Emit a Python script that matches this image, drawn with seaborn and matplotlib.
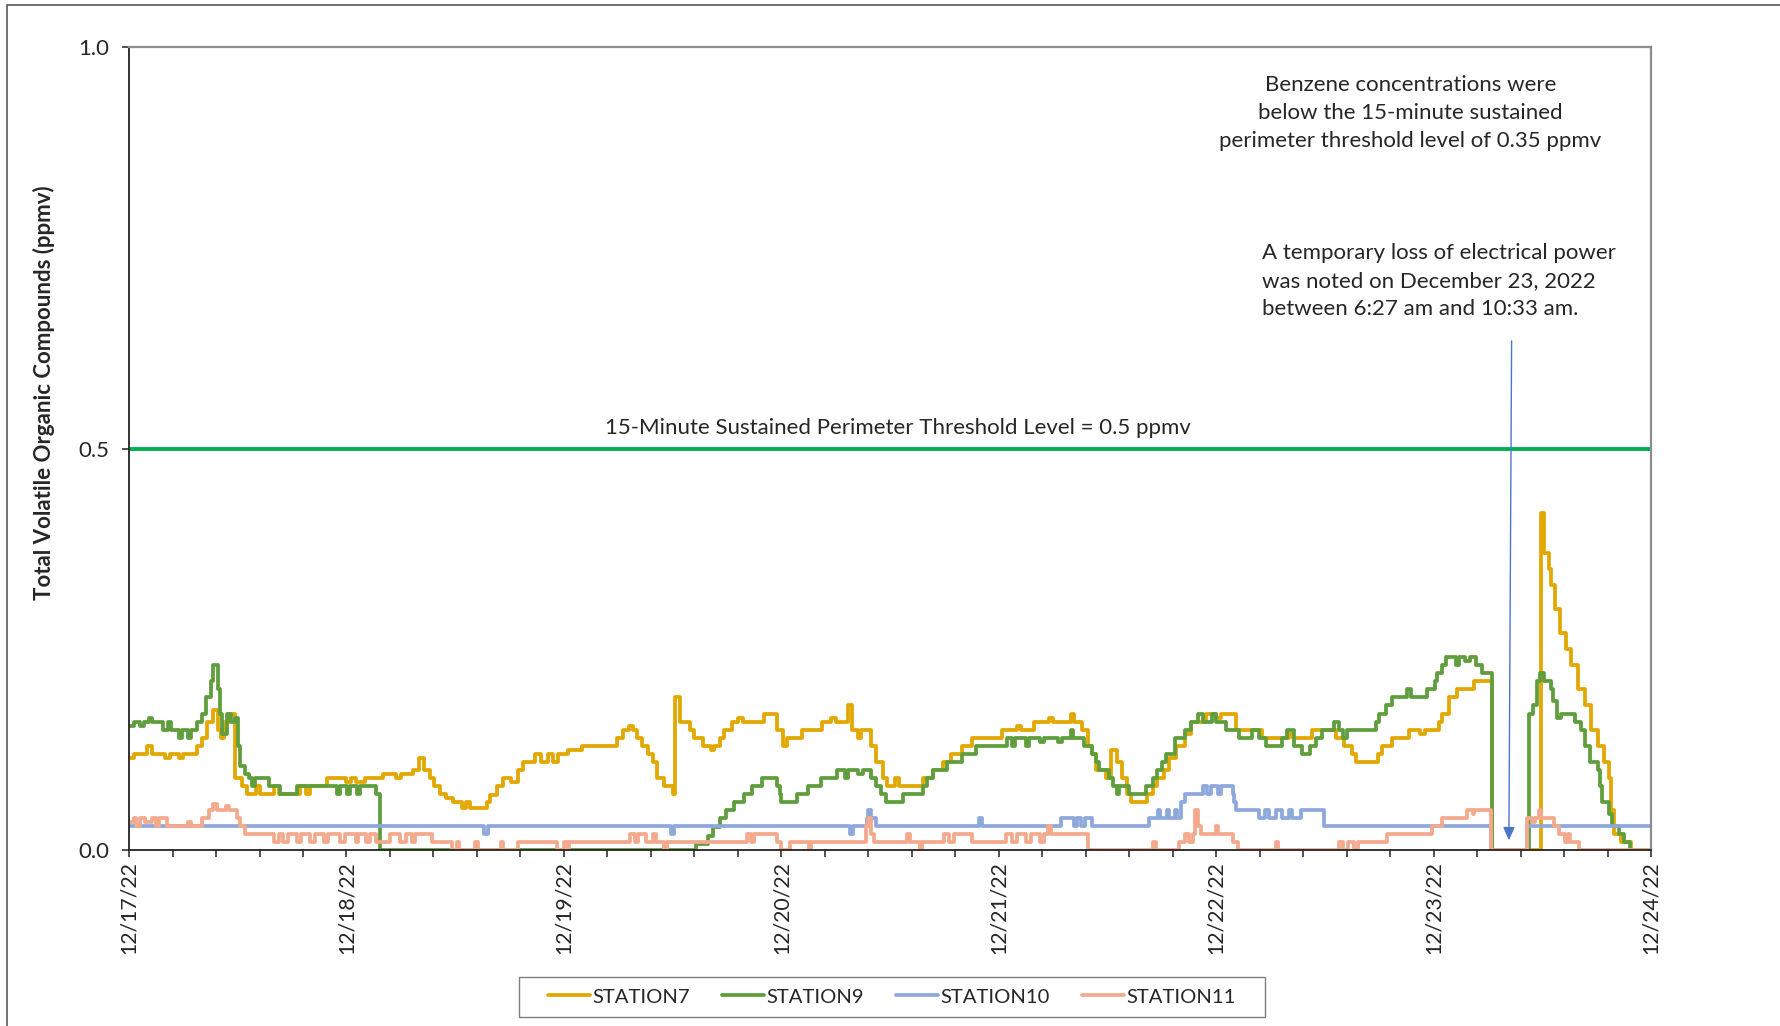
import pandas as pd
import matplotlib
matplotlib.use('Agg')
import matplotlib.pyplot as plt
import matplotlib.dates as mdates
from matplotlib.ticker import MultipleLocator, FormatStrFormatter
from matplotlib.patches import Rectangle
import seaborn as sns

START = pd.Timestamp('2022-12-17 00:00')
END = pd.Timestamp('2022-12-24 00:00')
THRESHOLD = 0.5

# hours after 12/17/22 00:00 where the reading changes, and the new reading (ppmv)
st7_hours = [0.0, 0.5, 2.0, 2.5, 4.0, 4.5, 5.5, 6.0, 7.5, 8.0,
             8.6, 9.3, 9.8, 10.1, 10.5, 11.0, 11.7, 12.5, 13.0, 14.0,
             14.5, 16.0, 16.5, 18.9, 19.5, 20.0, 21.8, 24.0, 24.5, 25.0,
             26.0, 28.0, 29.5, 30.0, 31.3, 32.0, 32.6, 33.2, 33.7, 34.3,
             35.0, 35.8, 36.7, 37.2, 37.6, 39.5, 39.8, 40.6, 41.3, 42.2,
             42.9, 43.5, 44.8, 45.5, 46.2, 46.8, 47.3, 48.5, 50.0, 53.9,
             54.5, 55.2, 55.6, 56.1, 56.6, 57.3, 57.8, 58.3, 59.1, 60.0,
             60.3, 60.8, 61.9, 62.4, 63.3, 64.2, 64.6, 65.2, 65.7, 66.6,
             67.2, 67.8, 70.1, 71.5, 72.2, 72.6, 74.3, 76.5, 77.5, 78.0,
             79.3, 79.8, 80.5, 80.8, 81.9, 82.5, 83.2, 83.7, 84.5, 85.0,
             87.6, 88.7, 89.8, 90.7, 91.9, 93.0, 96.4, 98.0, 98.5, 99.9,
             101.5, 102.0, 104.0, 104.3, 105.2, 105.8, 106.3, 106.7, 107.8, 108.4,
             109.0, 109.6, 110.2, 110.6, 112.4, 113.0, 113.5, 114.2, 114.8, 115.6,
             116.5, 117.2, 118.9, 120.0, 120.5, 122.2, 125.0, 128.0, 128.5, 130.6,
             133.2, 134.1, 135.0, 135.4, 137.8, 138.3, 139.4, 141.3, 142.5, 143.0,
             144.6, 144.9, 145.7, 146.6, 148.5, 150.4, 155.8, 156.2, 156.7, 157.0,
             157.4, 157.9, 158.6, 159.2, 159.9, 160.7, 161.4, 162.1, 162.8, 163.4,
             163.6, 163.9, 164.7, 165.8, 168.0]
st7_ppmv = [0.115, 0.12, 0.13, 0.12, 0.115, 0.12, 0.115, 0.12, 0.13, 0.14,
            0.16, 0.175, 0.15, 0.14, 0.16, 0.17, 0.09, 0.08, 0.07, 0.08,
            0.07, 0.08, 0.07, 0.08, 0.07, 0.08, 0.09, 0.085, 0.09, 0.085,
            0.09, 0.095, 0.09, 0.095, 0.10, 0.115, 0.10, 0.09, 0.08, 0.07,
            0.065, 0.06, 0.052, 0.06, 0.052, 0.06, 0.068, 0.08, 0.09, 0.085,
            0.10, 0.11, 0.12, 0.11, 0.12, 0.11, 0.12, 0.125, 0.13, 0.14,
            0.15, 0.155, 0.15, 0.14, 0.13, 0.12, 0.11, 0.09, 0.08, 0.07,
            0.19, 0.16, 0.15, 0.14, 0.13, 0.125, 0.13, 0.14, 0.15, 0.16,
            0.165, 0.16, 0.17, 0.15, 0.13, 0.14, 0.15, 0.16, 0.165, 0.16,
            0.18, 0.15, 0.14, 0.15, 0.13, 0.11, 0.09, 0.08, 0.09, 0.08,
            0.09, 0.10, 0.11, 0.12, 0.13, 0.14, 0.15, 0.155, 0.15, 0.16,
            0.165, 0.16, 0.17, 0.16, 0.15, 0.13, 0.12, 0.10, 0.09, 0.125,
            0.11, 0.09, 0.07, 0.06, 0.07, 0.08, 0.09, 0.10, 0.115, 0.13,
            0.145, 0.16, 0.17, 0.165, 0.17, 0.15, 0.14, 0.145, 0.14, 0.15,
            0.14, 0.13, 0.12, 0.11, 0.12, 0.13, 0.14, 0.15, 0.145, 0.15,
            0.16, 0.17, 0.19, 0.20, 0.21, 0.0, 0.42, 0.37, 0.35, 0.33,
            0.30, 0.27, 0.25, 0.23, 0.20, 0.18, 0.15, 0.13, 0.11, 0.09,
            0.05, 0.02, 0.01, 0.0, 0.0]

st9_hours = [0.0, 0.5, 1.2, 1.6, 2.2, 2.5, 3.8, 4.3, 4.6, 5.5,
             5.8, 6.5, 6.8, 7.5, 8.0, 8.5, 9.0, 9.3, 9.8, 10.0,
             10.3, 10.8, 11.2, 11.7, 12.0, 12.3, 12.8, 13.2, 13.6, 13.9,
             15.5, 16.7, 18.5, 23.0, 23.3, 24.1, 24.4, 25.2, 25.5, 27.3,
             27.7, 62.6, 63.9, 64.4, 65.2, 65.9, 66.8, 67.9, 68.8, 69.9,
             71.5, 71.8, 72.0, 73.7, 74.9, 76.4, 78.1, 79.0, 79.3, 80.5,
             81.0, 81.9, 82.5, 83.0, 83.6, 85.4, 87.6, 88.1, 88.7, 90.3,
             91.9, 93.5, 96.9, 97.5, 97.8, 99.0, 99.3, 100.5, 101.0, 102.5,
             103.0, 104.0, 104.2, 105.4, 106.3, 106.7, 107.1, 108.2, 108.6, 109.0,
             109.3, 110.4, 112.3, 113.0, 113.5, 114.0, 114.5, 115.4, 116.5, 117.2,
             118.0, 118.5, 119.5, 120.0, 121.1, 122.5, 123.9, 124.7, 125.5, 127.3,
             127.8, 128.6, 129.5, 130.3, 131.0, 131.7, 133.0, 133.5, 134.0, 134.4,
             137.6, 138.0, 138.7, 139.4, 141.0, 141.5, 143.3, 144.1, 144.4, 144.9,
             145.4, 146.5, 146.8, 147.5, 148.0, 148.7, 149.3, 150.4, 154.5, 155.0,
             155.4, 155.7, 156.2, 156.9, 157.2, 157.6, 158.1, 159.6, 160.3, 160.7,
             161.2, 162.1, 162.4, 162.6, 163.3, 163.7, 164.4, 165.0, 165.7, 168.0]
st9_ppmv = [0.155, 0.16, 0.155, 0.16, 0.165, 0.16, 0.15, 0.16, 0.15, 0.14,
            0.15, 0.14, 0.15, 0.16, 0.17, 0.19, 0.21, 0.23, 0.20, 0.17,
            0.145, 0.17, 0.16, 0.165, 0.13, 0.105, 0.095, 0.09, 0.08, 0.09,
            0.08, 0.07, 0.08, 0.07, 0.08, 0.07, 0.08, 0.07, 0.08, 0.07,
            0.0, 0.008, 0.018, 0.029, 0.04, 0.05, 0.06, 0.07, 0.08, 0.09,
            0.08, 0.07, 0.06, 0.07, 0.08, 0.09, 0.10, 0.09, 0.10, 0.095,
            0.10, 0.09, 0.08, 0.07, 0.06, 0.07, 0.08, 0.09, 0.10, 0.11,
            0.12, 0.13, 0.14, 0.13, 0.14, 0.13, 0.14, 0.135, 0.14, 0.135,
            0.14, 0.15, 0.14, 0.13, 0.12, 0.11, 0.10, 0.09, 0.08, 0.07,
            0.08, 0.07, 0.08, 0.09, 0.10, 0.11, 0.12, 0.14, 0.15, 0.16,
            0.17, 0.16, 0.17, 0.16, 0.15, 0.14, 0.15, 0.14, 0.13, 0.14,
            0.15, 0.13, 0.12, 0.13, 0.14, 0.15, 0.16, 0.15, 0.14, 0.15,
            0.16, 0.17, 0.18, 0.19, 0.20, 0.19, 0.20, 0.21, 0.22, 0.23,
            0.24, 0.23, 0.24, 0.235, 0.24, 0.23, 0.22, 0.0, 0.17, 0.18,
            0.21, 0.22, 0.21, 0.20, 0.185, 0.165, 0.17, 0.16, 0.15, 0.13,
            0.11, 0.10, 0.08, 0.06, 0.045, 0.03, 0.02, 0.01, 0.0, 0.0]

st10_hours = [0.0, 39.2, 39.6, 59.8, 60.2, 79.6, 79.9, 81.4, 81.6, 81.9,
              82.4, 93.8, 94.1, 102.9, 104.3, 104.6, 105.1, 105.5, 106.3, 112.6,
              113.6, 113.8, 114.6, 114.8, 115.5, 115.7, 116.1, 116.6, 118.5, 119.0,
              119.4, 120.2, 120.5, 121.8, 122.0, 122.2, 124.7, 125.4, 125.8, 126.6,
              127.3, 128.0, 128.4, 129.3, 131.9, 150.3, 154.3, 168.0]
st10_ppmv = [0.03, 0.02, 0.03, 0.02, 0.03, 0.02, 0.03, 0.04, 0.05, 0.04,
             0.03, 0.04, 0.03, 0.04, 0.03, 0.04, 0.03, 0.04, 0.03, 0.04,
             0.05, 0.04, 0.05, 0.04, 0.05, 0.04, 0.06, 0.07, 0.08, 0.07,
             0.08, 0.07, 0.08, 0.07, 0.06, 0.05, 0.04, 0.05, 0.04, 0.05,
             0.04, 0.05, 0.04, 0.05, 0.03, 0.0, 0.03, 0.03]

st11_hours = [0.0, 0.5, 0.8, 1.2, 1.8, 2.5, 3.0, 3.3, 4.2, 6.5,
              6.8, 8.0, 8.8, 9.3, 9.7, 10.7, 11.0, 11.9, 12.3, 12.8,
              16.0, 16.5, 17.0, 17.5, 18.5, 19.0, 20.0, 20.5, 21.5, 22.0,
              23.3, 23.8, 25.0, 25.3, 26.2, 26.6, 27.3, 28.8, 29.9, 30.6,
              31.2, 31.6, 33.4, 35.7, 36.2, 36.4, 38.2, 38.5, 41.0, 41.3,
              42.9, 47.2, 48.0, 48.3, 48.6, 55.3, 55.8, 56.2, 57.1, 57.8,
              58.2, 59.1, 59.4, 68.2, 68.6, 69.0, 71.5, 72.0, 73.0, 75.0,
              75.3, 81.3, 81.6, 81.9, 82.2, 85.9, 86.2, 87.3, 87.5, 90.0,
              90.5, 91.0, 93.0, 96.8, 97.5, 98.0, 99.0, 99.5, 100.5, 101.0,
              101.4, 101.8, 105.8, 113.0, 113.3, 115.9, 116.5, 117.0, 117.4, 117.7,
              118.0, 118.3, 120.0, 120.2, 121.8, 122.4, 126.6, 126.8, 133.5, 134.0,
              134.5, 135.2, 135.7, 138.9, 143.8, 144.9, 147.7, 148.3, 148.5, 150.3,
              154.3, 154.8, 155.2, 155.6, 155.8, 157.3, 157.8, 158.5, 158.8, 159.1,
              160.0, 168.0]
st11_ppmv = [0.035, 0.04, 0.03, 0.04, 0.035, 0.04, 0.03, 0.04, 0.03, 0.035,
             0.03, 0.04, 0.05, 0.057, 0.05, 0.055, 0.05, 0.04, 0.03, 0.02,
             0.01, 0.02, 0.01, 0.02, 0.01, 0.02, 0.01, 0.02, 0.01, 0.02,
             0.01, 0.02, 0.01, 0.02, 0.01, 0.02, 0.01, 0.02, 0.01, 0.02,
             0.01, 0.02, 0.01, 0.0, 0.01, 0.0, 0.01, 0.0, 0.01, 0.0,
             0.01, 0.0, 0.01, 0.0, 0.01, 0.02, 0.01, 0.02, 0.01, 0.02,
             0.01, 0.0, 0.01, 0.02, 0.01, 0.02, 0.01, 0.0, 0.01, 0.0,
             0.01, 0.03, 0.04, 0.02, 0.01, 0.02, 0.01, 0.0, 0.01, 0.02,
             0.01, 0.02, 0.01, 0.02, 0.01, 0.02, 0.01, 0.02, 0.01, 0.02,
             0.03, 0.02, 0.0, 0.01, 0.0, 0.01, 0.02, 0.01, 0.02, 0.05,
             0.03, 0.02, 0.03, 0.02, 0.01, 0.0, 0.01, 0.0, 0.01, 0.0,
             0.01, 0.0, 0.01, 0.02, 0.03, 0.04, 0.05, 0.045, 0.05, 0.0,
             0.04, 0.035, 0.04, 0.05, 0.04, 0.03, 0.02, 0.01, 0.02, 0.01,
             0.0, 0.0]

stations = ['STATION7', 'STATION9', 'STATION10', 'STATION11']
colors = ['#E2A800', '#5F9D3D', '#8FA8DC', '#F3A98C']

# power outage arrow (hours, ppmv): tail and tip
arrow_tail = (152.6, 0.634)
arrow_tip = (152.3, 0.012)


def to_frame(name, hours, ppmv):
    return pd.DataFrame({'time': START + pd.to_timedelta(hours, unit='h'),
                         'ppmv': ppmv, 'station': name})


df = pd.concat([to_frame('STATION7', st7_hours, st7_ppmv),
                to_frame('STATION9', st9_hours, st9_ppmv),
                to_frame('STATION10', st10_hours, st10_ppmv),
                to_frame('STATION11', st11_hours, st11_ppmv)], ignore_index=True)

sns.set_style('white')
plt.rcParams['font.family'] = ['Lato', 'DejaVu Sans']

fig = plt.figure(figsize=(17.8, 10.26), dpi=100)
ax = fig.add_axes([0.0725, 0.1715, 0.8551, 0.7827])

sns.lineplot(data=df, x='time', y='ppmv', hue='station', hue_order=stations,
             palette=dict(zip(stations, colors)), estimator=None,
             drawstyle='steps-post', linewidth=2.7, legend=False, ax=ax)

ax.axhline(THRESHOLD, color='#00B050', linewidth=2.8, zorder=1)

ax.set_xlim(START, END)
ax.set_ylim(0, 1.0)
ax.set_yticks([0, 0.5, 1.0])
ax.yaxis.set_major_formatter(FormatStrFormatter('%.1f'))
ax.xaxis.set_major_locator(mdates.DayLocator())
ax.xaxis.set_major_formatter(mdates.DateFormatter('%m/%d/%y'))
ax.xaxis.set_minor_locator(MultipleLocator(0.2))
ax.tick_params(axis='x', which='both', direction='out', length=5, width=1.1,
               color='#222222', bottom=True, labelsize=15.3, pad=3, labelrotation=90)
ax.tick_params(axis='y', which='major', direction='out', length=5, width=1.1,
               color='#222222', left=True, labelsize=16, pad=9)
ax.set_xlabel('')
ax.set_ylabel('Total Volatile Organic Compounds (ppmv)', fontsize=16, fontweight='bold')
ax.yaxis.set_label_coords(-0.0486, 0.57)

for side in ['left', 'bottom']:
    ax.spines[side].set_color('#222222')
    ax.spines[side].set_linewidth(1.3)
for side in ['top', 'right']:
    ax.spines[side].set_color('#8C8C8C')
    ax.spines[side].set_linewidth(1.6)

ax.text(0.505, 0.5255, '15-Minute Sustained Perimeter Threshold Level = 0.5 ppmv',
        transform=ax.transAxes, ha='center', va='center', fontsize=16)
ax.text(0.8418, 0.918, 'Benzene concentrations were\nbelow the 15-minute sustained\n'
        'perimeter threshold level of 0.35 ppmv', transform=ax.transAxes,
        ha='center', va='center', multialignment='center', fontsize=16, linespacing=1.5)
ax.text(0.7446, 0.709, 'A temporary loss of electrical power\nwas noted on December 23, 2022\n'
        'between 6:27 am and 10:33 am.', transform=ax.transAxes,
        ha='left', va='center', fontsize=16, linespacing=1.5)

tail_x = mdates.date2num(START + pd.Timedelta(hours=arrow_tail[0]))
tip_x = mdates.date2num(START + pd.Timedelta(hours=arrow_tip[0]))
ax.annotate('', xy=(tip_x, arrow_tip[1]), xytext=(tail_x, arrow_tail[1]),
            arrowprops=dict(arrowstyle='-|>,head_length=0.8,head_width=0.35',
                            color='#4A76C8', lw=1.0, shrinkA=0, shrinkB=0))

handles = ax.get_lines()[:4]
leg = fig.legend(handles, stations, loc='center', bbox_to_anchor=(0.501, 0.0283),
                 ncol=4, frameon=False, fontsize=14.6,
                 handlelength=2.1, handletextpad=0.12, columnspacing=1.55,
                 borderpad=0.0)

# box around the legend, with the wide side margins of the original
fig.canvas.draw()
bb = leg.get_window_extent()
W, H = fig.bbox.width, fig.bbox.height
pad_x, pad_y = 29, 11
fig.patches.append(Rectangle(((bb.x0 - pad_x) / W, (bb.y0 - pad_y) / H),
                             (bb.width + 2 * pad_x) / W, (bb.height + 2 * pad_y) / H,
                             transform=fig.transFigure, fill=False,
                             edgecolor='#7F7F7F', linewidth=1.0))

fig.patches.append(Rectangle((0.0039, -0.05), 1.2, 0.995 + 0.05, transform=fig.transFigure,
                             fill=False, edgecolor='#595959', linewidth=1.2))

fig.savefig('out.png', dpi=100)
